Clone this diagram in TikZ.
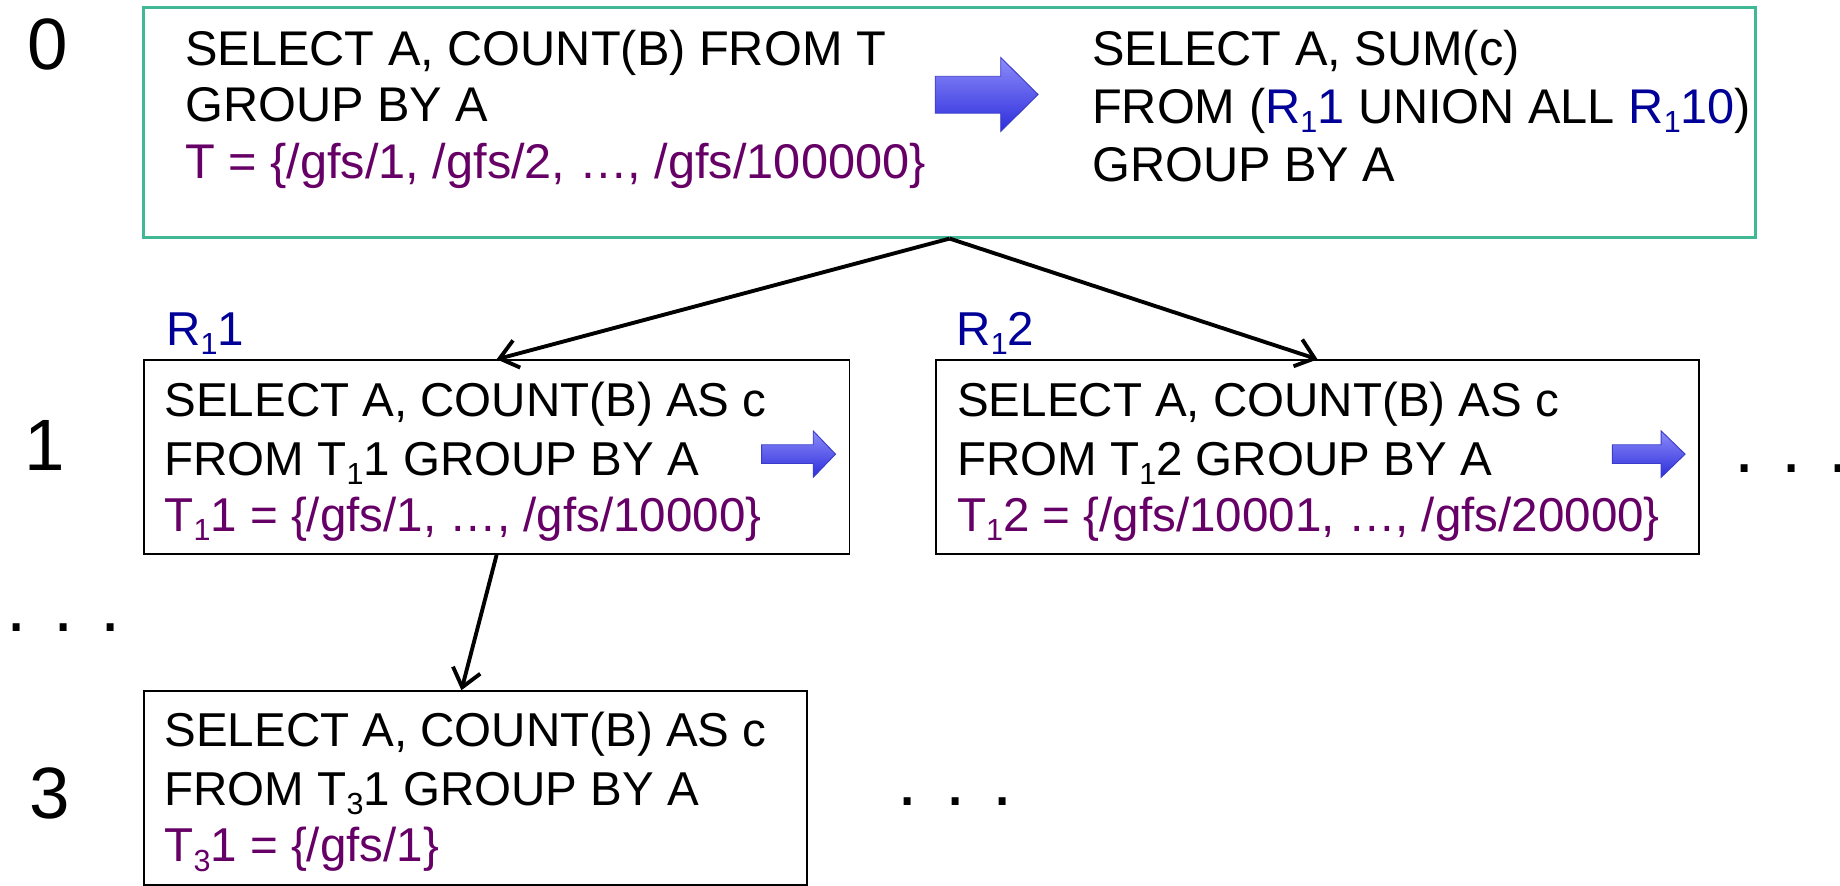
\documentclass[tikz,border=0pt]{standalone}
\usepackage{fontspec}
\setmainfont{Liberation Sans}
\usetikzlibrary{arrows.meta}
\definecolor{tealb}{RGB}{64,184,150}
\definecolor{purp}{RGB}{102,0,102}
\definecolor{navyb}{RGB}{0,0,153}
\definecolor{arrtop}{RGB}{140,140,250}
\definecolor{arrbot}{RGB}{45,45,220}
\definecolor{arredge}{RGB}{60,60,200}
\newcommand\sbs[1]{\raisebox{-8pt}{\fontsize{26}{26}\selectfont #1}}
\begin{document}
\begin{tikzpicture}[x=1pt,y=-1pt,
  boxt/.style={draw=tealb, line width=2.5pt, inner sep=0pt},
  boxk/.style={draw=black, line width=1.6pt, inner sep=0pt},
  txt/.style={anchor=base west, inner sep=0pt, font=\fontsize{40.5}{49}\selectfont},
  ttxt/.style={anchor=base west, inner sep=0pt, font=\fontsize{41.5}{49}\selectfont},
  lvl/.style={anchor=center, inner sep=0pt, font=\fontsize{62}{62}\selectfont},
  dots/.style={anchor=base west, inner sep=0pt, font=\fontsize{62}{62}\selectfont},
  conn/.style={draw=black, line width=3.3pt, -{Straight Barb[length=15pt,width=24pt]}},
  barrow/.style={top color=arrtop, bottom color=arrbot, draw=arredge, line width=0.8pt}]
\useasboundingbox (0,0) rectangle (1568,755);

% level labels
\node[lvl] (lbl0) at (41,37.6) {0};
\node[lvl] (lbl1) at (38.5,380) {1};
\node[lvl] (lbl3) at (42,676) {3};

% top box
\node[boxt, minimum width=1373.7pt, minimum height=195.7pt] (top) at (809.2,104.2) {};
\node[ttxt] (tl1) at (157.6,55.4) {SELECT A, COUNT(B) FROM T};
\node[ttxt] (tl2) at (157.6,103.7) {GROUP BY A};
\node[ttxt, text=purp] (tl3) at (157.6,152) {T = \{/gfs/1, /gfs/2, …, /gfs/100000\}};
\node[ttxt] (tr1) at (930.5,55.4) {SELECT A, SUM(c)};
\node[ttxt] (tr2) at (930.5,105) {FROM (\textcolor{navyb}{R\sbs{1}1} UNION ALL \textcolor{navyb}{R\sbs{1}10})};
\node[ttxt] (tr3) at (930.5,154.5) {GROUP BY A};
\path[barrow] (797,65) -- (852.8,65) -- (852.8,49) -- (884.6,80.5) -- (852.8,112) -- (852.8,96.5) -- (797,96.5) -- cycle;

% level 1 boxes
\node[txt, text=navyb] (r11) at (141.5,294) {R\sbs{1}1};
\node[txt, text=navyb] (r12) at (815,294) {R\sbs{1}2};
\node[boxk, minimum width=601.5pt, minimum height=165pt] (b1) at (423.2,389.5) {};
\node[txt] (b1l1) at (140,355) {SELECT A, COUNT(B) AS c};
\node[txt] (b1l2) at (140,404.8) {FROM T\sbs{1}1 GROUP BY A};
\node[txt, text=purp] (b1l3) at (140,453) {T\sbs{1}1 = \{/gfs/1, …, /gfs/10000\}};
\path[barrow] (649,379) -- (693,379) -- (693,367.25) -- (712,387) -- (693,406.75) -- (693,395) -- (649,395) -- cycle;

\node[boxk, minimum width=650.4pt, minimum height=165pt] (b2) at (1122.8,389.5) {};
\node[txt] (b2l1) at (815.5,355) {SELECT A, COUNT(B) AS c};
\node[txt] (b2l2) at (815.5,404.8) {FROM T\sbs{1}2 GROUP BY A};
\node[txt, text=purp] (b2l3) at (815.5,453) {T\sbs{1}2 = \{/gfs/10001, …, /gfs/20000\}};
\path[barrow] (1374,379) -- (1415.6,379) -- (1415.6,367.25) -- (1436,387) -- (1415.6,406.75) -- (1415.6,395) -- (1374,395) -- cycle;

% level 3 box
\node[boxk, minimum width=565.5pt, minimum height=165pt] (b3) at (405.2,671.5) {};
\node[txt] (b3l1) at (140,636.5) {SELECT A, COUNT(B) AS c};
\node[txt] (b3l2) at (140,686) {FROM T\sbs{3}1 GROUP BY A};
\node[txt, text=purp] (b3l3) at (140,734.5) {T\sbs{3}1 = \{/gfs/1\}};

% dots
\node[dots] (dotsr) at (1478,403) {. . .\kern-12pt};
\node[dots] (dotsl) at (5.4,538) {. . .};
\node[dots] (dotsb) at (765,686) {. . .};

% connectors
\draw[conn] (top.south) -- (b1.north);
\draw[conn] (top.south) -- (b2.north);
\draw[conn] (b1.south) -- ([xshift=-12pt]b3.north);
\end{tikzpicture}
\end{document}
